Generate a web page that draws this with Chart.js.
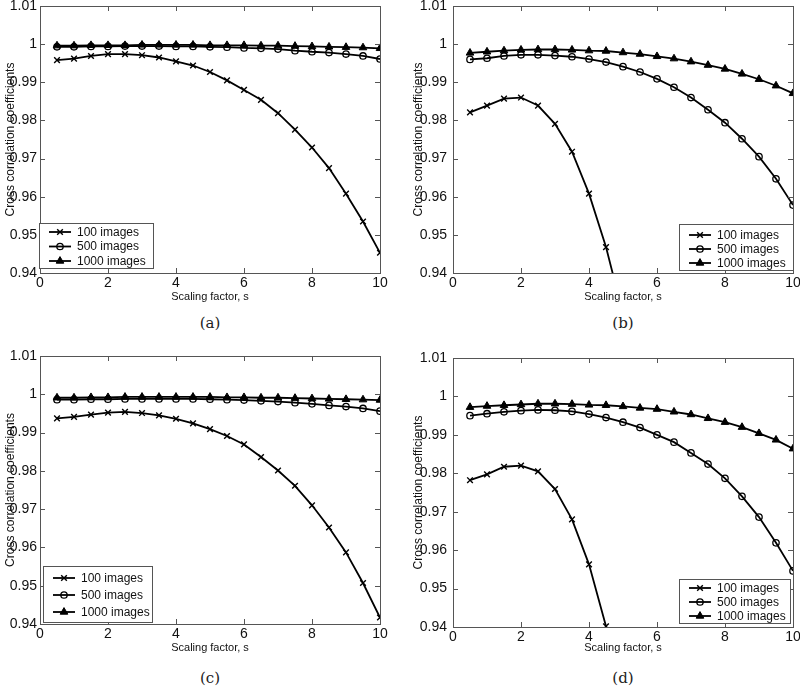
<!DOCTYPE html>
<html><head><meta charset="utf-8">
<script src="https://cdn.jsdelivr.net/npm/chart.js@4.4.1/dist/chart.umd.min.js"></script>
<style>
html,body{margin:0;padding:0;background:#fff}
body{width:800px;height:688px;overflow:hidden;position:relative;font-family:'Liberation Sans',Arial,sans-serif}
.p{position:absolute;width:400px}
.cap{position:absolute;font-family:'DejaVu Serif','Liberation Serif',serif;font-size:15px;color:#222;transform:translate(-50%,-50%);white-space:nowrap}
</style></head><body>
<div class="p" id="wa" style="left:0;top:0;height:306px"><canvas id="ca"></canvas></div>
<div class="p" id="wb" style="left:400px;top:0;height:306px"><canvas id="cb"></canvas></div>
<div class="p" id="wc" style="left:0;top:350px;height:307px"><canvas id="cc"></canvas></div>
<div class="p" id="wd" style="left:400px;top:350px;height:307px"><canvas id="cd"></canvas></div>
<div class="cap" style="left:210px;top:323px">(a)</div>
<div class="cap" style="left:623px;top:323px">(b)</div>
<div class="cap" style="left:210px;top:678px">(c)</div>
<div class="cap" style="left:623px;top:678px">(d)</div>
<script>
// ---- data ----
const xs = [0.5,1,1.5,2,2.5,3,3.5,4,4.5,5,5.5,6,6.5,7,7.5,8,8.5,9,9.5,10];
const seriesLabels = ['100 images','500 images','1000 images'];
const captions = ['(a)','(b)','(c)','(d)'];
const xTitle = 'Scaling factor, s';
const yTitle = 'Cross correlation coefficients';

const a100  = [0.9958,0.9962,0.9969,0.9974,0.9974,0.9971,0.9965,0.9955,0.9944,0.9927,0.9905,0.9880,0.9854,0.9819,0.9776,0.9729,0.9675,0.9608,0.9535,0.9453];
const a500  = [0.9993,0.9993,0.9994,0.9994,0.9995,0.9995,0.9995,0.9994,0.9994,0.9993,0.9992,0.9990,0.9989,0.9987,0.9983,0.9980,0.9978,0.9974,0.9969,0.9961];
const a1000 = [0.9996,0.9996,0.9997,0.9997,0.9997,0.9998,0.9998,0.9998,0.9998,0.9997,0.9997,0.9997,0.9996,0.9996,0.9995,0.9994,0.9993,0.9992,0.9991,0.9989];

const b100  = [0.9821,0.9839,0.9857,0.9860,0.9839,0.9791,0.9718,0.9608,0.9468,0.9293];
const b500  = [0.9960,0.9963,0.9969,0.9972,0.9972,0.9970,0.9967,0.9961,0.9953,0.9941,0.9927,0.9909,0.9887,0.9860,0.9828,0.9794,0.9752,0.9705,0.9647,0.9578];
const b1000 = [0.9977,0.9980,0.9983,0.9985,0.9986,0.9986,0.9985,0.9983,0.9982,0.9978,0.9974,0.9968,0.9962,0.9954,0.9945,0.9935,0.9922,0.9908,0.9891,0.9871];

const c100  = [0.9937,0.9941,0.9947,0.9952,0.9954,0.9951,0.9945,0.9936,0.9924,0.9909,0.9891,0.9869,0.9836,0.9801,0.9761,0.9710,0.9652,0.9587,0.9507,0.9417];
const c500  = [0.9986,0.9986,0.9987,0.9987,0.9988,0.9988,0.9988,0.9988,0.9988,0.9987,0.9986,0.9985,0.9983,0.9981,0.9978,0.9975,0.9971,0.9968,0.9963,0.9956];
const c1000 = [0.9991,0.9991,0.9992,0.9992,0.9993,0.9993,0.9993,0.9993,0.9993,0.9993,0.9992,0.9992,0.9991,0.9991,0.9990,0.9989,0.9988,0.9987,0.9986,0.9985];

const d100  = [0.9782,0.9797,0.9817,0.9820,0.9805,0.9759,0.9680,0.9563,0.9402];
const d500  = [0.9950,0.9955,0.9960,0.9963,0.9965,0.9964,0.9961,0.9954,0.9945,0.9933,0.9919,0.9900,0.9881,0.9853,0.9824,0.9787,0.9740,0.9686,0.9619,0.9546];
const d1000 = [0.9972,0.9975,0.9977,0.9979,0.9981,0.9981,0.9980,0.9978,0.9977,0.9974,0.9970,0.9967,0.9960,0.9953,0.9943,0.9933,0.9920,0.9904,0.9887,0.9864];

const yMin = 0.94, yMax = 1.01, yStep = 0.01;
const xMin = 0, xMax = 10, xStep = 2;

// ---- styling / layout ----
const styles = [
  {pointStyle:'crossRot', radius:4,   fill:'#000', bw:1.4},
  {pointStyle:'circle',   radius:3.2, fill:'rgba(0,0,0,0)', bw:1.3},
  {pointStyle:'triangle', radius:4.4, fill:'#000', bw:1}
];
const FONT = "'Liberation Sans', Arial, sans-serif";

const panels = [
  {id:'ca', series:[a100,a500,a1000], padL:3,  yW:37, padTop:6, padR:20, xH:33, tickPad:3,
   legend:{corner:'bl', dx:-1, dy:-5, w:114, h:45, first:9, step:14.5}},
  {id:'cb', series:[b100,b500,b1000], padL:11, yW:42, padTop:6, padR:7,  xH:33, tickPad:6,
   legend:{corner:'br', dx:0, dy:-3, w:114, h:46, first:11, step:14}},
  {id:'cc', series:[c100,c500,c1000], padL:3,  yW:37, padTop:6, padR:20, xH:33, tickPad:3,
   legend:{corner:'bl', dx:3, dy:-2, w:109, h:56, first:12, step:17}},
  {id:'cd', series:[d100,d500,d1000], padL:11, yW:42, padTop:8, padR:7,  xH:30, tickPad:6,
   legend:{corner:'br', dx:-3, dy:-4, w:111, h:44, first:9, step:14}}
];

function drawMarker(ctx, st, x, y){
  const r = st.radius;
  ctx.save();
  ctx.lineWidth = st.bw; ctx.strokeStyle = '#000'; ctx.fillStyle = st.fill;
  ctx.beginPath();
  if (st.pointStyle === 'crossRot'){
    const d = r*0.707;
    ctx.moveTo(x-d,y-d); ctx.lineTo(x+d,y+d); ctx.moveTo(x+d,y-d); ctx.lineTo(x-d,y+d); ctx.stroke();
  } else if (st.pointStyle === 'circle'){
    ctx.arc(x,y,r,0,Math.PI*2); ctx.fill(); ctx.stroke();
  } else {
    const s = r;
    ctx.moveTo(x, y - s); ctx.lineTo(x + s*0.866, y + s*0.5); ctx.lineTo(x - s*0.866, y + s*0.5); ctx.closePath(); ctx.fill(); ctx.stroke();
  }
  ctx.restore();
}

const matlabAxes = {
  id:'matlabAxes',
  afterDraw(chart, args, opts){
    const {ctx, chartArea:ca, scales} = chart;
    ctx.save();
    ctx.strokeStyle = '#555'; ctx.lineWidth = 1;
    ctx.strokeRect(Math.round(ca.left)+0.5, Math.round(ca.top)+0.5, Math.round(ca.right-ca.left), Math.round(ca.bottom-ca.top));
    const tl = 5;
    ctx.beginPath();
    scales.x.ticks.forEach(t => {
      const px = Math.round(scales.x.getPixelForValue(t.value))+0.5;
      if (px <= ca.left+1 || px >= ca.right-1) return;
      ctx.moveTo(px, ca.bottom); ctx.lineTo(px, ca.bottom - tl);
      ctx.moveTo(px, ca.top); ctx.lineTo(px, ca.top + tl);
    });
    scales.y.ticks.forEach(t => {
      const py = Math.round(scales.y.getPixelForValue(t.value))+0.5;
      if (py <= ca.top+1 || py >= ca.bottom-1) return;
      ctx.moveTo(ca.left, py); ctx.lineTo(ca.left + tl, py);
      ctx.moveTo(ca.right, py); ctx.lineTo(ca.right - tl, py);
    });
    ctx.stroke();

    // legend
    const L = opts.legend;
    const bx = L.corner === 'bl' ? ca.left + L.dx : ca.right + L.dx - L.w;
    const by = ca.bottom + L.dy - L.h;
    ctx.fillStyle = '#fff';
    ctx.fillRect(bx, by, L.w, L.h);
    ctx.strokeStyle = '#555';
    ctx.strokeRect(Math.round(bx)+0.5, Math.round(by)+0.5, L.w, L.h);
    ctx.font = '12px ' + FONT;
    ctx.textBaseline = 'middle'; ctx.textAlign = 'left';
    chart.data.datasets.forEach((ds, i) => {
      const yy = by + L.first + i*L.step;
      ctx.strokeStyle = '#000'; ctx.lineWidth = 1.8;
      ctx.beginPath(); ctx.moveTo(bx+10, yy); ctx.lineTo(bx+32, yy); ctx.stroke();
      drawMarker(ctx, styles[i], bx+21, yy);
      ctx.fillStyle = '#111';
      ctx.fillText(ds.label, bx+38, yy+0.5);
    });
    ctx.restore();
  }
};

panels.forEach(p => {
  const datasets = p.series.map((vals, i) => ({
    label: seriesLabels[i],
    data: vals.map((v, k) => ({x: xs[k], y: v})),
    borderColor:'#000', borderWidth:1.8, tension:0,
    pointStyle: styles[i].pointStyle, pointRadius: styles[i].radius,
    pointBackgroundColor: styles[i].fill, pointBorderColor:'#000', pointBorderWidth: styles[i].bw,
    pointHoverRadius: styles[i].radius, fill:false
  }));
  new Chart(document.getElementById(p.id), {
    type:'line',
    data:{datasets},
    options:{
      responsive:true, maintainAspectRatio:false, animation:false,
      events:[],
      layout:{padding:{left:p.padL, top:p.padTop, right:p.padR, bottom:0}},
      plugins:{legend:{display:false}, tooltip:{enabled:false}, matlabAxes:{legend:p.legend}},
      scales:{
        x:{type:'linear', min:xMin, max:xMax,
           ticks:{stepSize:xStep, color:'#111', font:{family:FONT, size:14}, padding:2, maxRotation:0},
           grid:{display:false, drawTicks:false}, border:{display:false},
           title:{display:true, text:xTitle, color:'#111', font:{family:FONT, size:11}, padding:{top:0,bottom:2}},
           afterFit(s){ s.height = p.xH; s.paddingLeft = 0; s.paddingRight = 0; }},
        y:{type:'linear', min:yMin, max:yMax,
           ticks:{stepSize:yStep, color:'#111', font:{family:FONT, size:14}, padding:p.tickPad,
                  callback:v => String(+Number(v).toFixed(2))},
           grid:{display:false, drawTicks:false}, border:{display:false},
           title:{display:true, text:yTitle, color:'#111', font:{family:FONT, size:12}, padding:{top:0,bottom:0}},
           afterFit(s){ s.width = p.yW; s.paddingTop = 0; s.paddingBottom = 0; }}
      }
    },
    plugins:[matlabAxes]
  });
});
</script>
</body></html>
